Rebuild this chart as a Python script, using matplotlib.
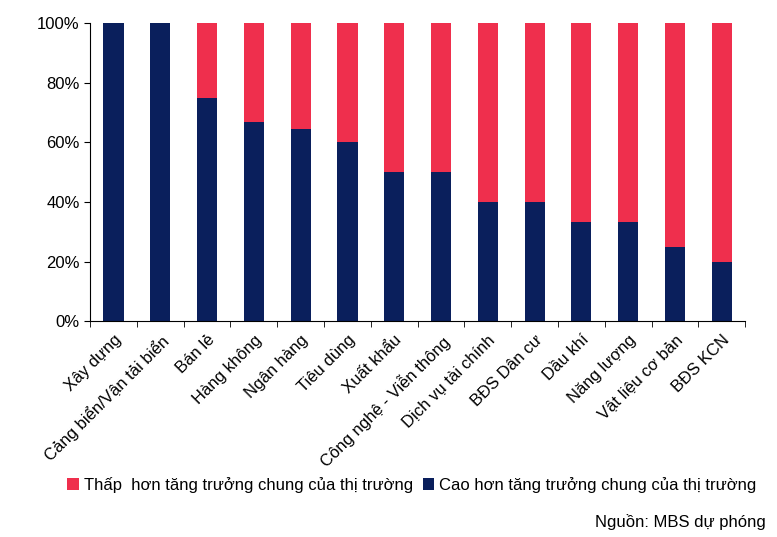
import matplotlib.pyplot as plt
from matplotlib.ticker import PercentFormatter

plt.rcParams['font.family'] = ['Liberation Sans', 'DejaVu Sans']

categories = ['Xây dựng', 'Cảng biển/Vận tải biển', 'Bán lẻ', 'Hàng không', 'Ngân hàng',
              'Tiêu dùng', 'Xuất khẩu', 'Công nghệ - Viễn thông', 'Dịch vụ tài chính',
              'BĐS Dân cư', 'Dầu khí', 'Năng lượng', 'Vật liệu cơ bản', 'BĐS KCN']
high = [100, 100, 75, 66.7, 64.3, 60, 50, 50, 40, 40, 33.3, 33.3, 25, 20]
low = [100 - v for v in high]

NAVY = '#0A1F5C'
RED = '#EF2F4D'

fig = plt.figure(figsize=(7.77, 5.37), dpi=100)
ax = fig.add_axes([0.116, 0.402, 0.843, 0.555])
x = range(len(categories))
ax.bar(x, high, width=0.43, color=NAVY, label='Cao hơn tăng trưởng chung của thị trường')
ax.bar(x, low, width=0.43, bottom=high, color=RED, label='Thấp  hơn tăng trưởng chung của thị trường')

ax.set_ylim(0, 100)
ax.set_xlim(-0.5, len(categories) - 0.5)
ax.set_yticks(range(0, 101, 20))
ax.yaxis.set_major_formatter(PercentFormatter(decimals=0))
ax.set_xticks(list(x))
ax.set_xticklabels(categories, rotation=45, ha='right', rotation_mode='anchor', fontsize=12)
ax.tick_params(axis='y', labelsize=12, direction='out', length=4)
ax.tick_params(axis='x', length=0, pad=8)
# tick marks sit between the categories
ax.set_xticks([i - 0.5 for i in range(len(categories) + 1)], minor=True)
ax.tick_params(axis='x', which='minor', length=4)
for s in ['top', 'right']:
    ax.spines[s].set_visible(False)

h, l = ax.get_legend_handles_labels()
fig.legend(h[::-1], l[::-1], loc='center', bbox_to_anchor=(0.53, 0.097), ncol=2, frameon=False,
           fontsize=12, handlelength=0.7, handleheight=0.7, columnspacing=0.6, handletextpad=0.3)
fig.text(0.985, 0.028, 'Nguồn: MBS dự phóng', ha='right', va='center', fontsize=12)

fig.savefig('out.png')
